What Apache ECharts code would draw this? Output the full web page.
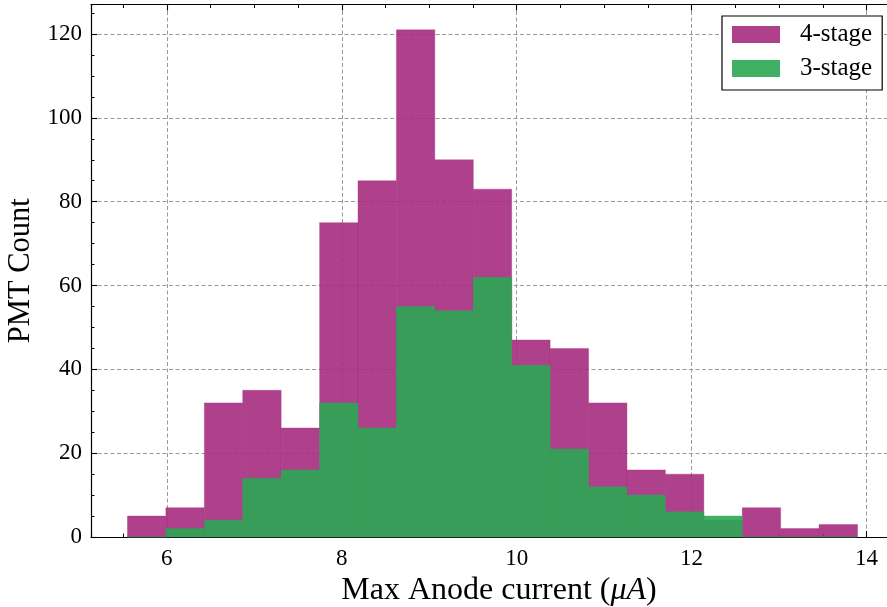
<!DOCTYPE html>
<html>
<head>
<meta charset="utf-8">
<script src="https://cdn.jsdelivr.net/npm/echarts@6/dist/echarts.min.js"></script>
<style>html,body{margin:0;padding:0;background:#fff}#c{width:887px;height:607px}</style>
</head>
<body>
<div id="c"></div>
<script>
// Histogram bin edges (µA)
const binEdges = [5.550, 5.989, 6.429, 6.868, 7.307, 7.747, 8.186, 8.625, 9.064, 9.504, 9.943, 10.382, 10.822, 11.261, 11.700, 12.140, 12.579, 13.018, 13.457, 13.897];
// Counts per bin
const count4stage = [5, 7, 32, 35, 26, 75, 85, 121, 90, 83, 47, 45, 32, 16, 15, 4, 7, 2, 3];
const count3stage = [0, 2, 4, 14, 16, 32, 26, 55, 54, 62, 41, 21, 12, 10, 6, 5, 0, 0, 0];
const seriesNames = ['4-stage', '3-stage'];
const xTitle = 'Max Anode current';
const yTitle = 'PMT Count';

const FONT = '"Liberation Serif", "Times New Roman", serif';

function toBins(counts) {
  return counts.map((c, i) => [binEdges[i], binEdges[i + 1], c]);
}
function renderBin(params, api) {
  const x0 = api.value(0), x1 = api.value(1), y = api.value(2);
  const p0 = api.coord([x0, y]);
  const p1 = api.coord([x1, 0]);
  const st = api.style();
  st.stroke = st.fill;
  st.lineWidth = 0.4;
  return {
    type: 'rect',
    shape: { x: p0[0], y: p0[1], width: p1[0] - p0[0], height: p1[1] - p0[1] },
    style: st
  };
}

const xMin = 5.133, xMax = 14.314;
const yMin = 0, yMax = 127.05;

const axisLineStyle = { color: '#000', width: 1.2 };
const gridLine = { show: true, lineStyle: { color: '#999', type: [4, 2.5], width: 1 } };
const isMult = (v, m) => Math.abs(v / m - Math.round(v / m)) < 1e-6;

const chart = echarts.init(document.getElementById('c'), null, { renderer: 'canvas' });
chart.setOption({
  animation: false,
  backgroundColor: '#fff',
  grid: { left: 91, top: 4.5, width: 803, height: 532.5, containLabel: false, outerBoundsMode: 'none' },
  legend: {
    data: seriesNames,
    left: 722, top: 16,
    orient: 'vertical',
    icon: 'rect',
    itemWidth: 48, itemHeight: 17, itemGap: 9,
    padding: [6, 10, 9, 10],
    backgroundColor: '#fff',
    borderColor: '#000', borderWidth: 1.2, borderRadius: 0,
    textStyle: { fontFamily: FONT, fontSize: 25, color: '#000', padding: [0, 0, 0, 15] }
  },
  xAxis: [{
    type: 'value', position: 'bottom', min: xMin, max: xMax, splitNumber: 5,
    name: xTitle + ' ({i|μA})', nameLocation: 'middle', nameGap: 36,
    nameTextStyle: { fontFamily: FONT, fontSize: 32, color: '#000', padding: [0, 0, 0, 13],
      rich: { i: { fontFamily: FONT, fontSize: 32, fontStyle: 'italic', color: '#000' } } },
    axisLine: { show: true, onZero: false, lineStyle: axisLineStyle },
    axisTick: { show: true, inside: true, length: 6, lineStyle: { color: '#000', width: 1.1 } },
    minorTick: { show: true, splitNumber: 4, length: 3.5, lineStyle: { color: '#000', width: 1 } },
    splitLine: gridLine,
    axisLabel: { margin: 10, fontFamily: FONT, fontSize: 23, color: '#000',
      formatter: v => isMult(v, 2) ? String(Math.round(v)) : '' }
  }, {
    type: 'value', position: 'top', min: xMin, max: xMax, splitNumber: 5,
    axisLine: { show: true, onZero: false, lineStyle: axisLineStyle },
    axisTick: { show: true, inside: true, length: 6, lineStyle: { color: '#000', width: 1.1 } },
    minorTick: { show: true, splitNumber: 4, length: 3.5, lineStyle: { color: '#000', width: 1 } },
    splitLine: { show: false },
    axisLabel: { show: false }
  }],
  yAxis: [{
    type: 'value', position: 'left', min: yMin, max: yMax, splitNumber: 6,
    name: yTitle, nameLocation: 'middle', nameGap: 54, nameRotate: 90,
    nameTextStyle: { fontFamily: FONT, fontSize: 30.5, color: '#000' },
    axisLine: { show: true, onZero: false, lineStyle: axisLineStyle },
    axisTick: { show: true, inside: true, length: 6, lineStyle: { color: '#000', width: 1.1 } },
    minorTick: { show: true, splitNumber: 4, length: 3.5, lineStyle: { color: '#000', width: 1 } },
    splitLine: gridLine,
    axisLabel: { margin: 9, fontFamily: FONT, fontSize: 23, color: '#000',
      formatter: v => isMult(v, 20) ? String(Math.round(v)) : '' }
  }, {
    type: 'value', position: 'right', min: yMin, max: yMax, splitNumber: 6,
    axisLine: { show: true, onZero: false, lineStyle: axisLineStyle },
    axisTick: { show: true, inside: true, length: 6, lineStyle: { color: '#000', width: 1.1 } },
    minorTick: { show: true, splitNumber: 4, length: 3.5, lineStyle: { color: '#000', width: 1 } },
    splitLine: { show: false },
    axisLabel: { show: false }
  }],
  series: [{
    name: seriesNames[0], type: 'custom', renderItem: renderBin,
    xAxisIndex: 0, yAxisIndex: 0,
    encode: { x: [0, 1], y: 2 },
    itemStyle: { color: 'rgba(166,44,128,0.9)' },
    data: toBins(count4stage), z: 2
  }, {
    name: seriesNames[1], type: 'custom', renderItem: renderBin,
    xAxisIndex: 0, yAxisIndex: 0,
    encode: { x: [0, 1], y: 2 },
    itemStyle: { color: 'rgba(43,167,83,0.9)' },
    data: toBins(count3stage), z: 3
  }]
});
</script>
</body>
</html>
